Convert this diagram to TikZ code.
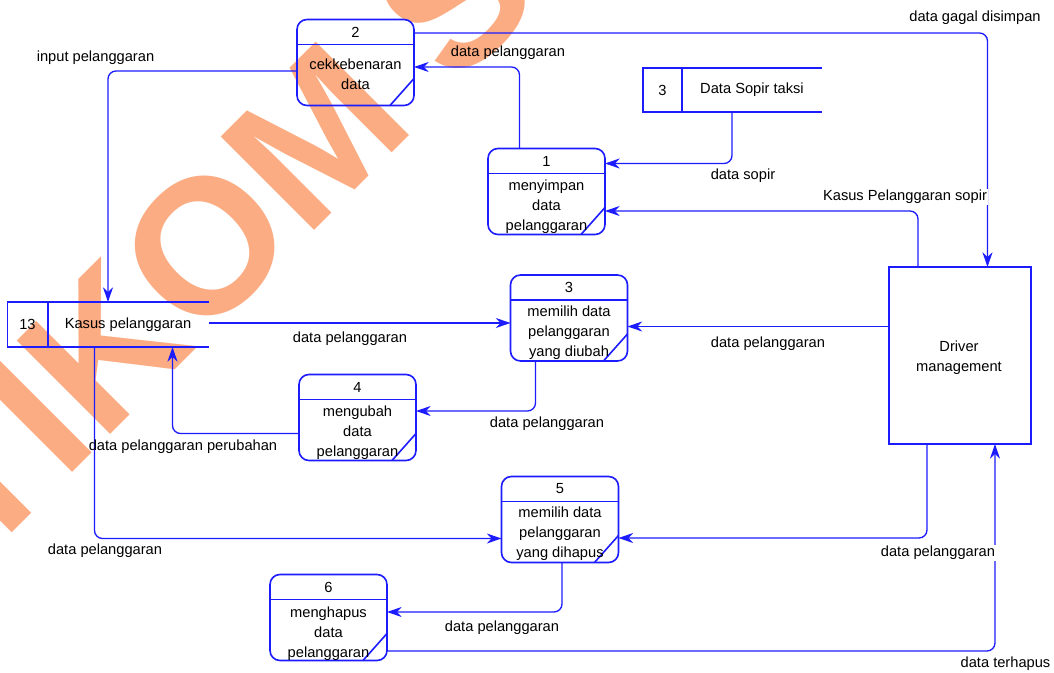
\documentclass[tikz,border=0pt]{standalone}
\usepackage{fontspec}
\setmainfont{Liberation Sans}
\usetikzlibrary{arrows.meta,calc}
\definecolor{dfdblue}{RGB}{28,28,255}
\definecolor{wmorange}{RGB}{251,172,130}
\begin{document}
\begin{tikzpicture}[x=0.75pt,y=-0.75pt,
  font=\fontsize{11}{15}\selectfont,
  proc/.style={draw=dfdblue,line width=1.2pt,rounded corners=7.5pt,minimum width=87.75pt,minimum height=64.5pt,inner sep=0pt,outer sep=0pt},
  ent/.style={draw=dfdblue,line width=1.2pt,minimum width=106.5pt,minimum height=132.75pt,inner sep=0pt,outer sep=0pt},
  store/.style={inner sep=0pt,outer sep=0pt},
  boxline/.style={draw=dfdblue,line width=1.2pt},
  flow/.style={draw=dfdblue,line width=1pt,rounded corners=6pt,-{Stealth[length=11pt,width=7.5pt,inset=3.5pt]}},
  lbl/.style={inner sep=1pt},
  lblw/.style={inner sep=1pt,fill=white},
  ptext/.style={align=center,inner sep=0pt},
]
\useasboundingbox (0,0) rectangle (1054,673);
\fill[white] (0,0) rectangle (1054,673);
% watermark
\begin{scope}
\clip (0,0) rectangle (1054,673);
\node[rotate=45, anchor=base west, text=wmorange, font=\fontsize{144}{144}\bfseries\selectfont, inner sep=0pt] (wm) at (-110,655) {STIKOM SURABAYA};
\end{scope}

% processes
\node[proc] (p2) at (355.5,62.5) {};
\node[proc] (p1) at (546.5,191.5) {};
\node[proc] (p3) at (569,318) {};
\node[proc] (p4) at (357.5,417.5) {};
\node[proc] (p5) at (560,519.5) {};
\node[proc] (p6) at (328.5,617.5) {};
\foreach \p in {p1,p2,p3,p4,p5,p6}{
  \draw[boxline] ($(\p.north west)+(0,25)$) -- ($(\p.north east)+(0,25)$);
  \draw[boxline] ($(\p.north east)+(0,59)$) -- ($(\p.south east)+(-24,0)$);
}
\node[ptext] (p2n) at ($(p2.north)+(0,12.5)$) {2};
\node[ptext] (p2t) at ($(p2.north)+(0,55)$) {cekkebenaran\\data};
\node[ptext] (p1n) at ($(p1.north)+(0,12.5)$) {1};
\node[ptext] (p1t) at ($(p1.north)+(0,58)$) {menyimpan\\data\\pelanggaran};
\node[ptext] (p3n) at ($(p3.north)+(0,12.5)$) {3};
\node[ptext] (p3t) at ($(p3.north)+(0,58)$) {memilih data\\pelanggaran\\yang diubah};
\node[ptext] (p4n) at ($(p4.north)+(0,12.5)$) {4};
\node[ptext] (p4t) at ($(p4.north)+(0,58)$) {mengubah\\data\\pelanggaran};
\node[ptext] (p5n) at ($(p5.north)+(0,12.5)$) {5};
\node[ptext] (p5t) at ($(p5.north)+(0,57)$) {memilih data\\pelanggaran\\yang dihapus};
\node[ptext] (p6n) at ($(p6.north)+(0,12.5)$) {6};
\node[ptext] (p6t) at ($(p6.north)+(0,59)$) {menghapus\\data\\pelanggaran};

% data stores
\node[store,minimum width=134.25pt,minimum height=33pt] (ds3) at (732.5,90) {};
\draw[boxline] (ds3.north east) -- (ds3.north west) -- (ds3.south west) -- (ds3.south east);
\draw[boxline] ($(ds3.north west)+(39,0)$) -- ($(ds3.south west)+(39,0)$);
\node[ptext] (ds3n) at (662.5,90) {3};
\node[ptext] (ds3t) at (752,90) {Data Sopir taksi};

\node[store,minimum width=151.125pt,minimum height=33.75pt] (ds13) at (108.25,324.5) {};
\draw[boxline] (ds13.north east) -- (ds13.north west) -- (ds13.south west) -- (ds13.south east);
\draw[boxline] ($(ds13.north west)+(40.5,0)$) -- ($(ds13.south west)+(40.5,0)$);
\node[ptext] (ds13n) at (27.5,324.5) {13};
\node[ptext] (ds13t) at (128,324.5) {Kasus pelanggaran};

% external entity
\node[ent] (drv) at (960,355.5) {};
\node[ptext] (drvt) at (959,357.5) {Driver\\management};

% flows
\draw[flow] ($(p2.west)+(0,8.5)$) -| ($(ds13.north west)+(100.5,0)$);
\draw[flow] ($(p2.north east)+(0,13.5)$) -| ($(drv.north west)+(98.5,0)$);
\draw[flow] ($(p1.north west)+(31.5,0)$) |- ($(p2.north east)+(0,47.5)$);
\draw[flow] ($(ds3.south west)+(89,0)$) |- ($(p1.north east)+(0,15)$);
\draw[flow] ($(drv.north west)+(29,0)$) |- ($(p1.north east)+(0,62.5)$);
\draw[flow] ($(ds13.north east)+(0,21)$) -- ($(p3.north west)+(0,48)$);
\draw[flow] ($(drv.north west)+(0,59.5)$) -- ($(p3.north east)+(0,51.5)$);
\draw[flow] ($(p3.south west)+(25,0)$) |- ($(p4.north east)+(0,36.5)$);
\draw[flow] ($(p4.north west)+(0,59)$) -| ($(ds13.south west)+(165,0)$);
\draw[flow] ($(ds13.south west)+(87,0)$) |- ($(p5.north west)+(0,62)$);
\draw[flow] ($(drv.south west)+(38,0)$) |- ($(p5.north east)+(0,61.5)$);
\draw[flow] ($(p5.south west)+(60.5,0)$) |- ($(p6.north east)+(0,37.5)$);
\draw[flow] ($(p6.north east)+(0,76.5)$) -| ($(drv.south west)+(106,0)$);

% labels
\node[lbl] (l1) at (95.5,58) {input pelanggaran};
\node[lbl] (l2) at (975,18) {data gagal disimpan};
\node[lbl] (l3) at (508,53) {data pelanggaran};
\node[lbl] (l4) at (743,176) {data sopir};
\node[lblw] (l5) at (905,197) {Kasus Pelanggaran sopir};
\node[lbl] (l6) at (350,339) {data pelanggaran};
\node[lbl] (l7) at (768,344) {data pelanggaran};
\node[lbl] (l8) at (547,424) {data pelanggaran};
\node[lbl] (l9) at (183,447) {data pelanggaran perubahan};
\node[lbl] (l10) at (105,551) {data pelanggaran};
\node[lblw] (l11) at (938,553) {data pelanggaran};
\node[lbl] (l12) at (502,628) {data pelanggaran};
\node[lbl] (l13) at (1005.5,664) {data terhapus};
\end{tikzpicture}
\end{document}
